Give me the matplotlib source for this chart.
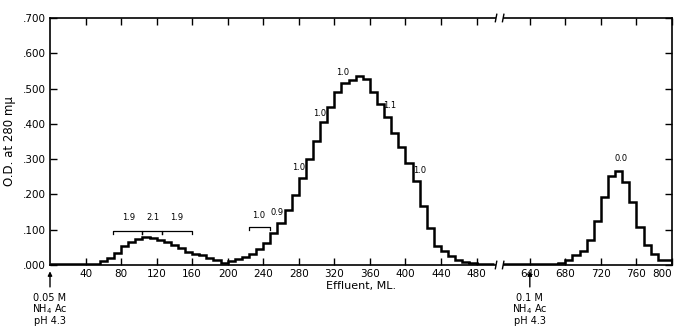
import numpy as np
import matplotlib
matplotlib.use("Agg")
import matplotlib.pyplot as plt
import matplotlib.transforms as mtransforms

# Effluent (mL) vs O.D. at 280 mu, stepwise fractions of 8 mL
left_start = 0
bin_width = 8
left_od = [0.002, 0.002, 0.002, 0.002, 0.002, 0.002, 0.002,
           0.012, 0.020, 0.035, 0.055, 0.066, 0.074, 0.079, 0.077, 0.072,
           0.066, 0.056, 0.047, 0.038, 0.032, 0.027, 0.021, 0.015, 0.007,
           0.012, 0.016, 0.023, 0.031, 0.044, 0.063, 0.091, 0.119, 0.156,
           0.199, 0.246, 0.299, 0.352, 0.405, 0.449, 0.490, 0.515, 0.525,
           0.535, 0.527, 0.490, 0.457, 0.420, 0.375, 0.335, 0.288, 0.239,
           0.168, 0.105, 0.055, 0.039, 0.025, 0.015, 0.009, 0.005, 0.003,
           0.003]
left_end = 500

right_start = 610
right_base_end = 672
right_od = [0.005, 0.015, 0.027, 0.039, 0.072, 0.125, 0.194, 0.252,
            0.267, 0.234, 0.178, 0.109, 0.058, 0.032, 0.015, 0.015]

x_ticks = [40, 80, 120, 160, 200, 240, 280, 320, 360, 400, 440, 480,
           640, 680, 720, 760, 800]
y_ticks = [0.0, 0.1, 0.2, 0.3, 0.4, 0.5, 0.6, 0.7]
y_ticklabels = [".000", ".100", ".200", ".300", ".400", ".500", ".600", ".700"]

# fraction-ratio labels: (mL, OD, text)
ratio_labels = [(88, 0.122, "1.9"), (116, 0.122, "2.1"), (143, 0.122, "1.9"),
                (235, 0.128, "1.0"), (256, 0.136, "0.9"), (280, 0.264, "1.0"),
                (303, 0.417, "1.0"), (329, 0.532, "1.0"), (382, 0.440, "1.1"),
                (416, 0.255, "1.0"), (743, 0.290, "0.0")]
brackets = [(71, 103, 0.097), (103, 126, 0.097), (126, 160, 0.097),
            (224, 248, 0.109)]

SHIFT = 100  # 500-610 mL gap cut out of the axis


def cx(x):
    x = np.asarray(x, dtype=float)
    return np.where(x > 505, x - SHIFT, x)


fig = plt.figure(figsize=(6.76, 3.33), dpi=100)
ax = fig.add_axes([50 / 676, 1 - 265 / 333, 622 / 676, 247 / 333])

lw = 1.8
left_edges = left_start + bin_width * np.arange(len(left_od) + 1)
left_edges[-1] = left_end
ax.stairs(left_od, cx(left_edges), color="black", lw=lw, baseline=None)

right_edges = right_base_end + bin_width * np.arange(len(right_od) + 1)
r_edges = np.concatenate([[right_start], right_edges])
r_vals = [0.002] + right_od
ax.stairs(r_vals, cx(r_edges), color="black", lw=lw, baseline=None)
ax.plot(cx([800, 800]), [right_od[-1], 0], color="black", lw=lw)

ax.set_xlim(0, 700)
ax.set_ylim(0, 0.7)
ax.set_xticks(cx(x_ticks))
ax.set_xticklabels([str(t) for t in x_ticks])
ax.set_yticks(y_ticks)
ax.set_yticklabels(y_ticklabels)
ax.tick_params(direction="in", length=5, width=1.0, top=True, right=True,
               labelsize=7.5, pad=3)
ax.get_xticklabels()[-1].set_horizontalalignment("right")
for s in ax.spines.values():
    s.set_linewidth(1.2)

# axis break
trans = mtransforms.blended_transform_factory(ax.transData, ax.transAxes)
for yb in (0, 1):
    ax.add_patch(plt.Rectangle((502, yb - 0.015), 8, 0.03, transform=trans,
                               facecolor="white", edgecolor="none",
                               clip_on=False, zorder=5))
    for xb in (502, 510):
        ax.plot([xb - 0.8, xb + 0.8], [yb - 0.015, yb + 0.015], transform=trans,
                color="black", lw=1.0, clip_on=False, zorder=6)

for x, y, t in ratio_labels:
    ax.text(cx(x), y, t, fontsize=6, ha="center", va="bottom")
for x0, x1, y in brackets:
    ax.plot([x0, x0, x1, x1], [y - 0.01, y, y, y - 0.01], color="black", lw=0.9)

ax.set_xlabel("Effluent, ML.", fontsize=8, labelpad=1)
ax.set_ylabel("O.D. at 280 m\u03bc", fontsize=8.5, labelpad=5)

# eluent change arrows
for x, txt in [(0, "0.05 M\nNH$_4$ Ac\npH 4.3"), (640, "0.1 M\nNH$_4$ Ac\npH 4.3")]:
    ax.annotate("", xy=(cx(x), -0.01), xytext=(cx(x), -0.07),
                xycoords=("data", "data"),
                arrowprops=dict(arrowstyle="-|>", color="black", lw=1.0,
                                mutation_scale=6),
                annotation_clip=False)
    ax.text(cx(x), -0.078, txt, fontsize=7, ha="center", va="top",
            linespacing=1.0)

fig.savefig("out.png", dpi=100)
